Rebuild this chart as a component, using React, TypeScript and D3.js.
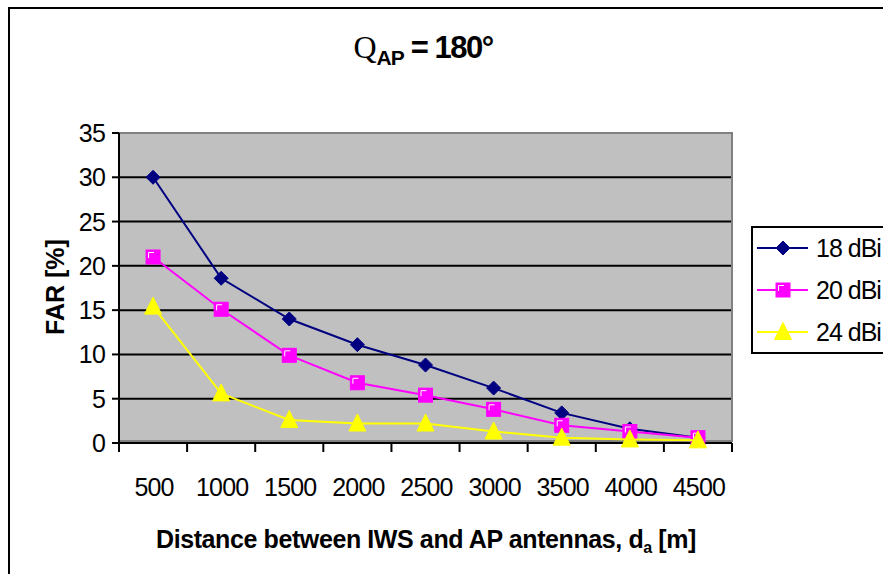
import React from "react";
import * as d3 from "d3";

const categories = ["500", "1000", "1500", "2000", "2500", "3000", "3500", "4000", "4500"];
const series18 = [30, 18.6, 14.0, 11.1, 8.8, 6.2, 3.4, 1.6, 0.6];
const series20 = [21, 15.1, 9.9, 6.8, 5.4, 3.8, 2.0, 1.3, 0.6];
const series24 = [15.4, 5.6, 2.6, 2.2, 2.2, 1.3, 0.6, 0.4, 0.3];
const yTicks = [0, 5, 10, 15, 20, 25, 30, 35];
const seriesNames = ["18 dBi", "20 dBi", "24 dBi"];

const W = 883, H = 574;
const plot = { left: 119, right: 732, top: 133, bottom: 443 };
const FONT = "'Liberation Sans', Arial, sans-serif";

function Marker({ kind, x, y, color }: { kind: string; x: number; y: number; color: string }) {
  if (kind === "diamond") {
    const s = 7;
    return <path d={`M${x},${y - s} L${x + s},${y} L${x},${y + s} L${x - s},${y} Z`} fill={color} stroke={color} strokeWidth={1} />;
  }
  if (kind === "square") {
    const s = 7;
    return (
      <g>
        <rect x={x - s} y={y - s} width={2 * s} height={2 * s} fill={color} stroke={color} strokeWidth={1} />
        <path d={`M${x - s + 2.5},${y + 1} V${y - s + 2.5} H${x + 1}`} fill="none" stroke="#ffffff" strokeWidth={1} />
      </g>
    );
  }
  const h = 17, w = 17;
  return <path d={`M${x},${y - h / 2 - 1} L${x + w / 2},${y + h / 2 - 1} L${x - w / 2},${y + h / 2 - 1} Z`} fill={color} stroke={color} strokeWidth={1} />;
}

export default function App() {
  const x = d3.scaleBand<string>().domain(categories).range([plot.left, plot.right]);
  const y = d3.scaleLinear().domain([0, 35]).range([plot.bottom, plot.top]);
  const cx = (c: string) => (x(c) as number) + x.bandwidth() / 2;

  const all = [
    { name: seriesNames[0], values: series18, color: "#000080", kind: "diamond" },
    { name: seriesNames[1], values: series20, color: "#ff00ff", kind: "square" },
    { name: seriesNames[2], values: series24, color: "#ffff00", kind: "triangle" },
  ];

  const line = d3
    .line<number>()
    .x((_, i) => cx(categories[i]))
    .y((d) => y(d));

  const bounds = categories.map((c) => x(c) as number).concat([plot.right]);

  return (
    <svg width={W} height={H} style={{ position: "absolute", left: 0, top: 0, background: "#fff" }} fontFamily={FONT}>
      <rect x={0} y={0} width={W} height={H} fill="#ffffff" />
      {/* outer chart border */}
      <rect x={9} y={8} width={W + 20} height={H + 20} fill="none" stroke="#000" strokeWidth={2} />

      {/* title */}
      <text x={423} y={58} textAnchor="middle" fontSize={31} fill="#000">
        <tspan fontFamily="'Liberation Serif', 'Times New Roman', serif" fontSize={32}>Q</tspan>
        <tspan fontWeight="bold" fontSize={21} dy={7} letterSpacing={-1}>AP</tspan>
        <tspan fontWeight="bold" dy={-7} letterSpacing={-1.5}> = 180°</tspan>
      </text>

      {/* plot area */}
      <rect x={plot.left} y={plot.top} width={plot.right - plot.left} height={plot.bottom - plot.top} fill="#c0c0c0" />
      {yTicks.filter((t) => t > 0 && t < 35).map((t) => (
        <line key={t} x1={plot.left} x2={plot.right} y1={y(t)} y2={y(t)} stroke="#000" strokeWidth={2} />
      ))}
      <rect x={plot.left} y={plot.top} width={plot.right - plot.left} height={plot.bottom - plot.top - 2} fill="none" stroke="#808080" strokeWidth={2} />

      {/* y axis */}
      <line x1={plot.left} x2={plot.left} y1={plot.top} y2={plot.bottom} stroke="#000" strokeWidth={2} />
      {yTicks.map((t) => (
        <g key={t}>
          <line x1={plot.left - 7} x2={plot.left} y1={y(t)} y2={y(t)} stroke="#000" strokeWidth={2} />
          <text x={105} y={y(t) + 9} textAnchor="end" fontSize={25} letterSpacing={-0.8} fill="#000">{t}</text>
        </g>
      ))}

      {/* x axis */}
      <line x1={plot.left} x2={plot.right} y1={plot.bottom} y2={plot.bottom} stroke="#000" strokeWidth={2} />
      {bounds.map((b, i) => (
        <line key={i} x1={b} x2={b} y1={plot.bottom} y2={plot.bottom + 9} stroke="#000" strokeWidth={2} />
      ))}
      {categories.map((c) => (
        <text key={c} x={cx(c) + 1} y={496} textAnchor="middle" fontSize={25} letterSpacing={-0.8} fill="#000">{c}</text>
      ))}

      {/* axis titles */}
      <text x={426} y={548} textAnchor="middle" fontSize={25} fontWeight="bold" letterSpacing={-0.4} fill="#000">
        Distance between IWS and AP antennas, d<tspan fontSize={16} dy={5}>a</tspan><tspan dy={-5}> [m]</tspan>
      </text>
      <text transform={`translate(64,287) rotate(-90)`} textAnchor="middle" fontSize={25} fontWeight="bold" fill="#000">FAR [%]</text>

      {/* series */}
      {all.map((s) => (
        <g key={s.name}>
          <path d={line(s.values) as string} fill="none" stroke={s.color} strokeWidth={2} />
          {s.values.map((v, i) => (
            <Marker key={i} kind={s.kind} x={cx(categories[i])} y={y(v)} color={s.color} />
          ))}
        </g>
      ))}

      {/* legend */}
      <rect x={752} y={227} width={200} height={126} fill="#ffffff" stroke="#000" strokeWidth={2} />
      {all.map((s, i) => {
        const ly = 248 + i * 42;
        return (
          <g key={s.name}>
            <line x1={757} x2={808} y1={ly} y2={ly} stroke={s.color} strokeWidth={2} />
            <Marker kind={s.kind} x={783} y={ly} color={s.color} />
            <text x={816} y={ly + 9} fontSize={25} letterSpacing={-1} fill="#000">{s.name}</text>
          </g>
        );
      })}
    </svg>
  );
}
